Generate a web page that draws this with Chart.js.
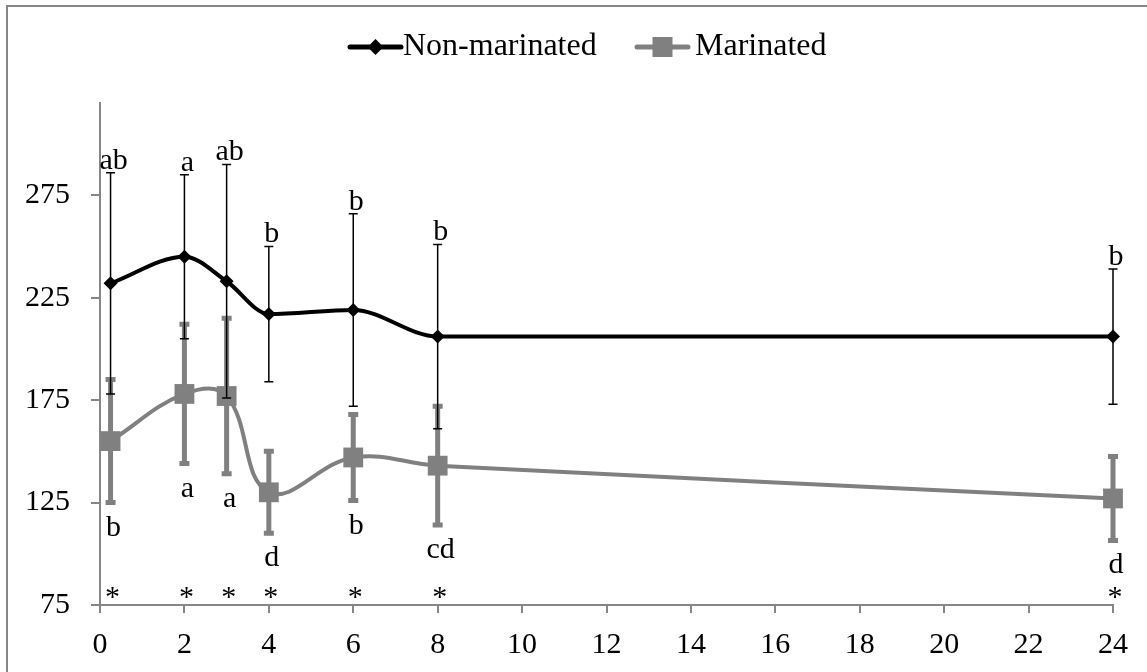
<!DOCTYPE html>
<html>
<head>
<meta charset="utf-8">
<title>Non-marinated vs Marinated</title>
<script src="https://cdn.jsdelivr.net/npm/chart.js@4.4.1/dist/chart.umd.min.js"></script>
<style>
    html, body { margin: 0; padding: 0; background: #ffffff; }
    #wrap { width: 1147px; height: 672px; position: relative; }
</style>
</head>
<body>
<div id="wrap"><canvas id="chart" width="1147" height="672"></canvas></div>
<script>
// 데이터
const hours = [0.25, 2, 3, 4, 6, 8, 24];
const nonMarinated = [232, 245, 233, 217, 219, 206, 206];
const nonMarinatedErr = [54, 40, 57, 33, 47, 45, 33];
const marinated = [155, 178, 177, 130, 147, 143, 127];
const marinatedErr = [30, 34, 38, 20, 21, 29, 20.5];
const nonMarinatedLetters = ['ab', 'a', 'ab', 'b', 'b', 'b', 'b'];
const marinatedLetters = ['b', 'a', 'a', 'd', 'b', 'cd', 'd'];
const significance = ['*', '*', '*', '*', '*', '*', '*'];
const yTicks = [75, 125, 175, 225, 275];
const xTicks = [0, 2, 4, 6, 8, 10, 12, 14, 16, 18, 20, 22, 24];

const FONT = "'Liberation Serif', 'Times New Roman', serif";
const AXIS_GRAY = '#868686';
const GRAY = '#808080';

/**
 * 에러바: 각 데이터셋을 그리기 직전에 그립니다.
 */
const errorBarPlugin = {
    id: 'errorBars',
    beforeDatasetDraw(chart, args) {
        const ds = chart.data.datasets[args.index];
        if (!ds.errors) return;
        const { x: xs, y: ys } = chart.scales;
        const ctx = chart.ctx;
        ctx.save();
        ctx.strokeStyle = ds.errColor;
        ctx.lineWidth = ds.errWidth;
        ds.data.forEach((p, i) => {
            const px = xs.getPixelForValue(p.x);
            const top = ys.getPixelForValue(p.y + ds.errors[i]);
            const bot = ys.getPixelForValue(p.y - ds.errors[i]);
            const half = ds.capHalf;
            ctx.beginPath();
            ctx.moveTo(px, top); ctx.lineTo(px, bot);
            ctx.moveTo(px - half, top); ctx.lineTo(px + half, top);
            ctx.moveTo(px - half, bot); ctx.lineTo(px + half, bot);
            ctx.stroke();
        });
        ctx.restore();
    }
};

/**
 * 유의성 문자(a, b, ...)와 별표
 */
const letterPlugin = {
    id: 'letters',
    afterDatasetsDraw(chart) {
        const { x: xs, y: ys } = chart.scales;
        const ctx = chart.ctx;
        ctx.save();
        ctx.fillStyle = '#000';
        ctx.font = `30px ${FONT}`;
        ctx.textAlign = 'center';
        ctx.textBaseline = 'alphabetic';
        hours.forEach((h, i) => {
            const px = xs.getPixelForValue(h);
            const top = ys.getPixelForValue(nonMarinated[i] + nonMarinatedErr[i]);
            ctx.fillText(nonMarinatedLetters[i], px + 3, top - 4);
            const bot = ys.getPixelForValue(marinated[i] - marinatedErr[i]);
            ctx.fillText(marinatedLetters[i], px + 3, bot + 33);
            ctx.fillText(significance[i], px + 2, chart.chartArea.bottom + 1);
        });
        ctx.restore();
    }
};

// 범례 아이콘 (선 + 마커)
function drawLegendIcon(ctx, x, y, color, shape) {
    ctx.save();
    ctx.strokeStyle = color;
    ctx.fillStyle = color;
    ctx.lineWidth = 5;
    ctx.lineCap = 'round';
    ctx.beginPath();
    ctx.moveTo(x + 2, y); ctx.lineTo(x + 53, y);
    ctx.stroke();
    const cx = x + 27.5;
    ctx.beginPath();
    if (shape === 'diamond') {
        ctx.moveTo(cx, y - 8); ctx.lineTo(cx + 8, y); ctx.lineTo(cx, y + 8); ctx.lineTo(cx - 8, y);
        ctx.closePath();
    } else {
        ctx.rect(cx - 10, y - 10, 20, 20);
    }
    ctx.fill();
    ctx.restore();
}

/**
 * 범례와 바깥 테두리
 */
const frameLegendPlugin = {
    id: 'frameLegend',
    afterDraw(chart) {
        const ctx = chart.ctx;
        ctx.save();
        // 테두리 (위, 왼쪽만 보임)
        ctx.strokeStyle = AXIS_GRAY;
        ctx.lineWidth = 2;
        ctx.beginPath();
        ctx.moveTo(1147, 6); ctx.lineTo(7, 6); ctx.lineTo(7, 672);
        ctx.stroke();

        const ly = 47;
        drawLegendIcon(ctx, 348, ly, '#000', 'diamond');
        drawLegendIcon(ctx, 635, ly, GRAY, 'square');
        ctx.fillStyle = '#000';
        ctx.font = `32px ${FONT}`;
        ctx.textAlign = 'left';
        ctx.textBaseline = 'middle';
        ctx.fillText(chart.data.datasets[0].label, 403, ly);
        ctx.fillText(chart.data.datasets[1].label, 695, ly);
        ctx.restore();
    }
};

new Chart(document.getElementById('chart'), {
    type: 'line',
    data: {
        datasets: [
            {
                label: 'Non-marinated',
                data: hours.map((h, i) => ({ x: h, y: nonMarinated[i] })),
                borderColor: '#000',
                backgroundColor: '#000',
                borderWidth: 4,
                cubicInterpolationMode: 'monotone',
                pointStyle: 'rectRot',
                pointRadius: 7,
                pointBorderWidth: 0,
                clip: false,
                errors: nonMarinatedErr,
                errColor: '#000',
                errWidth: 1.5,
                capHalf: 4.5
            },
            {
                label: 'Marinated',
                data: hours.map((h, i) => ({ x: h, y: marinated[i] })),
                borderColor: GRAY,
                backgroundColor: GRAY,
                borderWidth: 4,
                tension: 0.4,
                pointStyle: 'rect',
                pointRadius: 14,
                pointBorderWidth: 0,
                clip: false,
                errors: marinatedErr,
                errColor: GRAY,
                errWidth: 5,
                capHalf: 5
            }
        ]
    },
    options: {
        responsive: false,
        devicePixelRatio: 1,
        animation: false,
        layout: { padding: { top: 103, left: 10, right: 34, bottom: 10 } },
        plugins: {
            legend: { display: false },
            tooltip: { enabled: false }
        },
        scales: {
            x: {
                type: 'linear',
                min: 0,
                max: 24,
                afterFit: (s) => { s.height = 57; },
                afterBuildTicks: (s) => { s.ticks = xTicks.map(v => ({ value: v })); },
                border: { color: AXIS_GRAY, width: 2 },
                grid: { drawOnChartArea: false, drawTicks: true, tickLength: 8, color: AXIS_GRAY, lineWidth: 2 },
                ticks: { color: '#000', font: { family: FONT, size: 30 }, padding: 14, maxRotation: 0 }
            },
            y: {
                min: 75,
                max: 320,
                afterFit: (s) => { s.width = 90; },
                afterBuildTicks: (s) => { s.ticks = yTicks.map(v => ({ value: v })); },
                border: { color: AXIS_GRAY, width: 2 },
                grid: { drawOnChartArea: false, drawTicks: true, tickLength: 9, color: AXIS_GRAY, lineWidth: 2 },
                ticks: { color: '#000', font: { family: FONT, size: 30 }, padding: 21 }
            }
        }
    },
    plugins: [errorBarPlugin, letterPlugin, frameLegendPlugin]
});
</script>
</body>
</html>
